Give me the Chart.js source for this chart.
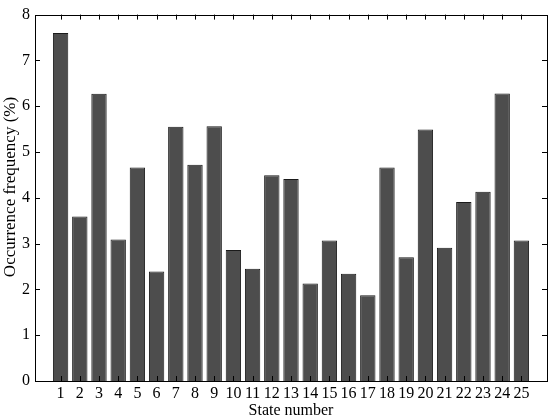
<!DOCTYPE html>
<html>
<head>
<meta charset="utf-8">
<script src="https://cdn.jsdelivr.net/npm/chart.js@4"></script>
<style>
  html, body { margin: 0; padding: 0; background: #fff; }
  #wrap { width: 550px; height: 420px; }
</style>
</head>
<body>
<div id="wrap"><canvas id="chart" width="550" height="420"></canvas></div>
<script>
const states = [1, 2, 3, 4, 5, 6, 7, 8, 9, 10, 11, 12, 13, 14, 15, 16, 17, 18, 19, 20, 21, 22, 23, 24, 25];
const frequency = [7.60, 3.59, 6.27, 3.09, 4.66, 2.39, 5.55, 4.72, 5.56, 2.86, 2.45, 4.49, 4.41,
                   2.13, 3.07, 2.34, 1.87, 4.66, 2.70, 5.49, 2.91, 3.91, 4.13, 6.28, 3.07];
const yTicks = [0, 1, 2, 3, 4, 5, 6, 7, 8];
const yTitle = 'Occurrence frequency (%)';

const serif = '"Liberation Serif", "Times New Roman", serif';

// matlab style box with inward ticks, plus the y title (sits a bit above centre in the original)
const framePlugin = {
    id: 'frame',
    afterDraw(chart) {
        const ctx = chart.ctx;
        const a = chart.chartArea;
        const xs = chart.scales.x;
        const ys = chart.scales.y;
        const len = 5;
        ctx.save();
        ctx.strokeStyle = '#000';
        ctx.lineWidth = 1;
        ctx.strokeRect(Math.round(a.left) + 0.5, Math.round(a.top) + 0.5,
                       Math.round(a.right - a.left), Math.round(a.bottom - a.top));
        ctx.beginPath();
        states.forEach(v => {
            const px = Math.round(xs.getPixelForValue(v)) + 0.5;
            ctx.moveTo(px, a.bottom); ctx.lineTo(px, a.bottom - len);
            ctx.moveTo(px, a.top); ctx.lineTo(px, a.top + len);
        });
        yTicks.forEach(v => {
            const py = Math.round(ys.getPixelForValue(v)) + 0.5;
            ctx.moveTo(a.left, py); ctx.lineTo(a.left + len, py);
            ctx.moveTo(a.right, py); ctx.lineTo(a.right - len, py);
        });
        ctx.stroke();

        ctx.translate(11, 187);
        ctx.rotate(-Math.PI / 2);
        ctx.fillStyle = '#000';
        ctx.font = '17px ' + serif;
        ctx.textAlign = 'center';
        ctx.textBaseline = 'middle';
        ctx.fillText(yTitle, 0, 0);
        ctx.restore();
    }
};

new Chart(document.getElementById('chart'), {
    type: 'bar',
    data: {
        datasets: [{
            data: states.map((s, i) => ({ x: s, y: frequency[i] })),
            backgroundColor: '#4d4d4d',
            borderColor: '#1a1a1a',
            borderWidth: 1,
            barPercentage: 0.8,
            categoryPercentage: 1.0
        }]
    },
    options: {
        responsive: false,
        animation: false,
        layout: { padding: { top: 9, right: 3, left: 0, bottom: 0 } },
        plugins: { legend: { display: false }, tooltip: { enabled: false } },
        scales: {
            x: {
                type: 'linear',
                min: 0.2,
                max: 25.8,
                afterFit: s => { s.height = 39; },
                afterBuildTicks: s => { s.ticks = states.map(v => ({ value: v })); },
                grid: { display: false, drawTicks: false },
                border: { display: false },
                ticks: { color: '#000', font: { family: serif, size: 16 }, padding: 3, maxRotation: 0, autoSkip: false },
                title: { display: true, text: 'State number', color: '#000', font: { family: serif, size: 16 }, padding: { top: 0, bottom: 0 } }
            },
            y: {
                min: 0,
                max: 8,
                afterFit: s => { s.width = 35; },
                afterBuildTicks: s => { s.ticks = yTicks.map(v => ({ value: v })); },
                grid: { display: false, drawTicks: false },
                border: { display: false },
                ticks: { color: '#000', font: { family: serif, size: 16 }, padding: 5 }
            }
        }
    },
    plugins: [framePlugin]
});
</script>
</body>
</html>
